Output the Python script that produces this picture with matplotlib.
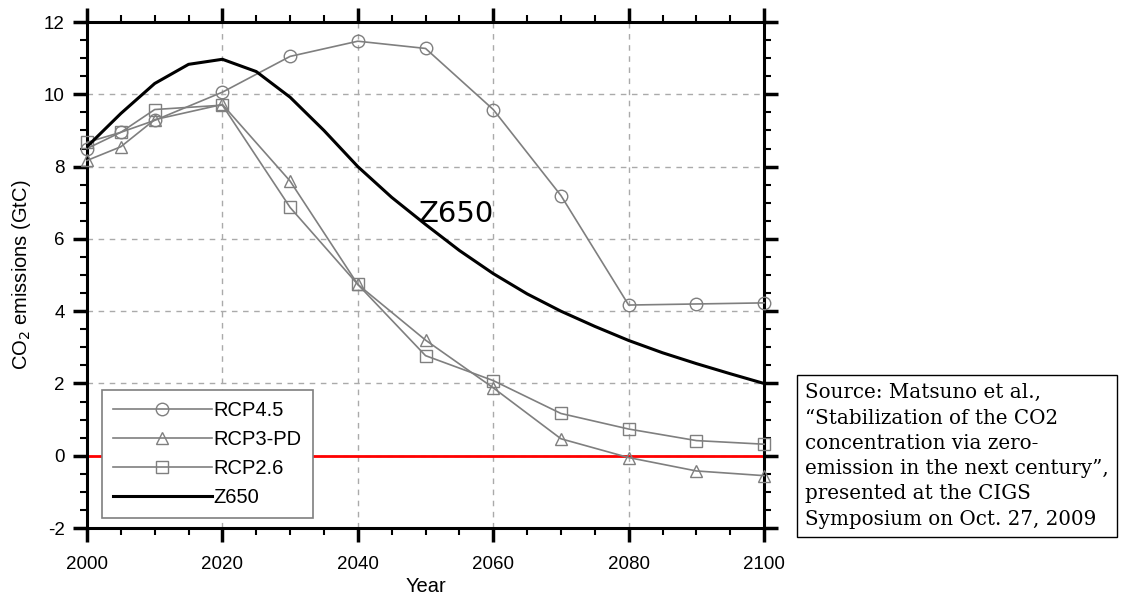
import numpy as np
import matplotlib.pyplot as plt
from matplotlib.ticker import MultipleLocator

years_rcp = [2000, 2005, 2010, 2020, 2030, 2040, 2050, 2060, 2070, 2080, 2090, 2100]
rcp45 = [8.5, 8.95, 9.28, 10.06, 11.05, 11.47, 11.27, 9.58, 7.2, 4.17, 4.2, 4.23]
rcp3pd = [8.17, 8.55, 9.3, 9.72, 7.6, 4.74, 3.2, 1.88, 0.47, -0.05, -0.42, -0.55]
rcp26 = [8.67, 8.95, 9.58, 9.7, 6.87, 4.74, 2.77, 2.08, 1.17, 0.74, 0.42, 0.32]

years_z = [2000, 2005, 2010, 2015, 2020, 2025, 2030, 2035, 2040, 2045, 2050, 2055,
           2060, 2065, 2070, 2075, 2080, 2085, 2090, 2095, 2100]
z650 = [8.55, 9.47, 10.3, 10.83, 10.97, 10.63, 9.92, 9.0, 8.0, 7.15, 6.4, 5.68,
        5.04, 4.48, 4.0, 3.58, 3.19, 2.85, 2.55, 2.27, 2.0]

source_text = ("Source: Matsuno et al.,\n"
               "\u201cStabilization of the CO2\n"
               "concentration via zero-\n"
               "emission in the next century\u201d,\n"
               "presented at the CIGS\n"
               "Symposium on Oct. 27, 2009")

plt.rcParams['font.family'] = ['Liberation Sans', 'DejaVu Sans']
plt.rcParams['axes.unicode_minus'] = False

fig = plt.figure(figsize=(11.21, 5.96), dpi=100)
ax = fig.add_axes([0.0776, 0.114, 0.604, 0.849])
ax.set_axisbelow(True)

gray = '#7f7f7f'
ax.axhline(0, color='red', lw=2, zorder=1)
for yv, mk, lab in [(rcp45, 'o', 'RCP4.5'), (rcp3pd, '^', 'RCP3-PD'),
                    (rcp26, 's', 'RCP2.6')]:
    ax.plot(years_rcp, yv, color=gray, lw=1.2, marker=mk, ms=9, mfc='none',
            mec=gray, label=lab, zorder=3, clip_on=False)
ax.plot(years_z, z650, color='black', lw=2.2, label='Z650', zorder=4)

ax.text(2054.5, 6.68, 'Z650', fontsize=21, family='DejaVu Sans',
        ha='center', va='center')

ax.set_xlim(2000, 2100)
ax.set_ylim(-2, 12)
ax.xaxis.set_major_locator(MultipleLocator(20))
ax.xaxis.set_minor_locator(MultipleLocator(5))
ax.yaxis.set_major_locator(MultipleLocator(2))
ax.yaxis.set_minor_locator(MultipleLocator(0.5))
ax.grid(True, which='major', ls=(0, (4, 4)), color='#aaaaaa', lw=1)
ax.tick_params(which='both', direction='out', top=True, right=True,
               labeltop=False, labelright=False, labelsize=13.5, width=1.5)
ax.tick_params(which='major', length=10, width=2.5)
ax.tick_params(which='minor', length=5)
ax.tick_params(axis='x', which='major', pad=10)
ax.tick_params(axis='y', which='major', pad=6)
for s in ax.spines.values():
    s.set_linewidth(2.2)

ax.set_xlabel('Year', fontsize=14.5, labelpad=3)
ax.set_ylabel('CO$_2$ emissions (GtC)', fontsize=14.5, labelpad=8)

leg = ax.legend(loc='lower left', bbox_to_anchor=(0.022, 0.02), fontsize=14.5,
                handlelength=4.9, fancybox=False, framealpha=1,
                edgecolor=gray, borderpad=0.55, labelspacing=0.5,
                handletextpad=0.1, borderaxespad=0)
leg.get_frame().set_linewidth(1.2)
leg.set_zorder(10)

fig.text(0.718, 0.357, source_text, fontsize=14.3, family='DejaVu Serif',
         va='top', ha='left', linespacing=1.42,
         bbox=dict(boxstyle='square,pad=0.4', fc='white', ec='black', lw=1))

fig.savefig('out.png', dpi=100)
